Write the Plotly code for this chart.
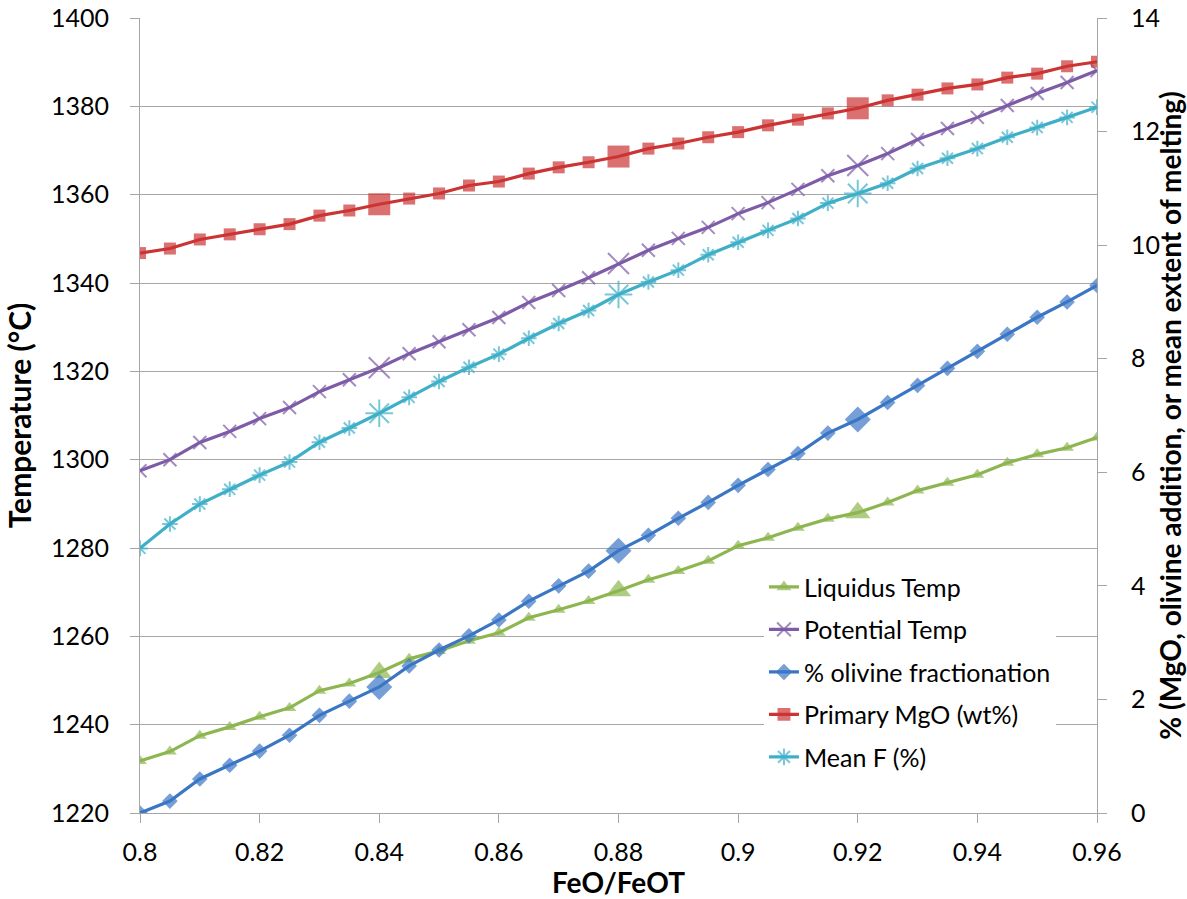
import plotly.graph_objects as go

# FeO/FeOT ratio
feo_ratio = [0.800, 0.805, 0.810, 0.815, 0.820, 0.825, 0.830, 0.835, 0.840,
             0.845, 0.850, 0.855, 0.860, 0.865, 0.870, 0.875, 0.880,
             0.885, 0.890, 0.895, 0.900, 0.905, 0.910,
             0.915, 0.920, 0.925, 0.930, 0.935, 0.940, 0.945, 0.950, 0.955, 0.960]

# Temperatures (°C), left axis
liquidus_temp = [1231.8, 1233.9, 1237.5, 1239.5, 1241.8, 1243.8, 1247.7, 1249.3, 1251.8,
                 1254.9, 1256.7, 1259.0, 1260.8, 1264.2, 1266.0, 1268.0, 1270.3,
                 1272.8, 1274.8, 1277.1, 1280.5, 1282.3, 1284.6,
                 1286.6, 1288.0, 1290.3, 1293.0, 1294.8, 1296.6, 1299.3, 1301.2, 1302.7, 1305.0]
potential_temp = [1297.5, 1300.0, 1303.9, 1306.4, 1309.3, 1311.8, 1315.4, 1318.1, 1320.8,
                  1324.0, 1326.7, 1329.4, 1332.2, 1335.6, 1338.3, 1341.2, 1344.4,
                  1347.4, 1350.1, 1352.6, 1355.7, 1358.2, 1361.2,
                  1364.3, 1366.6, 1369.3, 1372.5, 1375.0, 1377.5, 1380.2, 1382.9, 1385.4, 1388.1]

# Percent quantities, right axis
olivine_frac = [0.00, 0.21, 0.60, 0.84, 1.09, 1.37, 1.72, 1.97, 2.22,
                2.59, 2.87, 3.12, 3.40, 3.73, 4.00, 4.26, 4.62,
                4.89, 5.19, 5.47, 5.77, 6.05, 6.33,
                6.69, 6.93, 7.23, 7.53, 7.83, 8.13, 8.43, 8.73, 9.00, 9.29]
primary_mgo = [9.86, 9.94, 10.10, 10.19, 10.28, 10.37, 10.52, 10.61, 10.72,
               10.82, 10.91, 11.05, 11.12, 11.26, 11.37, 11.46, 11.56,
               11.70, 11.79, 11.90, 11.99, 12.11, 12.21,
               12.32, 12.41, 12.55, 12.65, 12.76, 12.83, 12.95, 13.02, 13.15, 13.23]
mean_f = [4.66, 5.09, 5.44, 5.70, 5.95, 6.18, 6.53, 6.78, 7.04,
          7.32, 7.60, 7.85, 8.08, 8.36, 8.62, 8.85, 9.13,
          9.35, 9.56, 9.83, 10.05, 10.26, 10.47,
          10.74, 10.91, 11.09, 11.35, 11.53, 11.70, 11.90, 12.07, 12.25, 12.43]

# Ratios whose markers are emphasised
highlight_ratios = [0.84, 0.88, 0.92]

x_tick_vals = [0.80, 0.82, 0.84, 0.86, 0.88, 0.90, 0.92, 0.94, 0.96]
x_tick_text = ["0.8", "0.82", "0.84", "0.86", "0.88", "0.9", "0.92", "0.94", "0.96"]


def sizes(normal, big):
    return [big if any(abs(r - h) < 1e-9 for h in highlight_ratios) else normal
            for r in feo_ratio]


FONT = "Lato, 'Open Sans', sans-serif"

series = [
    ("Liquidus Temp", liquidus_temp, "y", "#8DB650", "triangle-up", 12, 22, 0),
    ("Potential Temp", potential_temp, "y", "#7D5BA6", "x-thin-open", 13, 21, 2),
    ("% olivine fractionation", olivine_frac, "y2", "#3A76C4", "diamond", 12, 20, 0),
    ("Primary MgO (wt%)", primary_mgo, "y2", "#CC3333", "square", 12, 22, 0),
    ("Mean F (%)", mean_f, "y2", "#3FAFC8", "asterisk-open", 13, 23, 2),
]

fig = go.Figure()
for i, (name, vals, yax, color, symbol, s_norm, s_big, lw) in enumerate(series):
    fig.add_trace(go.Scatter(
        x=feo_ratio, y=vals, name=name, yaxis=yax, mode="lines+markers",
        line=dict(color=color, width=3.2),
        marker=dict(symbol=symbol, color=color, size=sizes(s_norm, s_big),
                    line=dict(color=color, width=lw)),
        legendgroup=f"g{i}",
    ))

grid_color = "#A6A6A6"
fig.update_layout(
    width=1187, height=899,
    margin=dict(l=140, r=90, t=18, b=86, autoexpand=False),
    paper_bgcolor="white", plot_bgcolor="white",
    font=dict(family=FONT, color="#000000"),
    showlegend=True,
    legend=dict(
        x=0.652, y=0.313, xanchor="left", yanchor="top",
        bgcolor="white", font=dict(size=25, family=FONT),
        traceorder="grouped", tracegroupgap=7, itemwidth=30,
    ),
    xaxis=dict(
        range=[0.8, 0.96], tickvals=x_tick_vals, ticktext=x_tick_text,
        showgrid=False, zeroline=False, showline=True, linecolor=grid_color, linewidth=1,
        ticks="outside", ticklen=9, tickcolor=grid_color, automargin=False,
        tickfont=dict(size=25), ticklabelstandoff=8,
        title=dict(text="<b>FeO/FeOT</b>", font=dict(size=28), standoff=7),
    ),
    yaxis=dict(
        range=[1220, 1400], dtick=20, tick0=1220,
        showgrid=True, gridcolor=grid_color, gridwidth=1, zeroline=False,
        showline=True, linecolor=grid_color, linewidth=1, automargin=False,
        ticks="outside", ticklen=9, tickcolor=grid_color,
        tickfont=dict(size=25), ticklabelstandoff=16,
        title=dict(text="<b>Temperature (°C)</b>", font=dict(size=30), standoff=10),
    ),
    yaxis2=dict(
        range=[0, 14], dtick=2, tick0=0, overlaying="y", side="right",
        showgrid=False, zeroline=False, showline=True, linecolor=grid_color, linewidth=1,
        ticks="outside", ticklen=9, tickcolor=grid_color, automargin=False,
        tickfont=dict(size=25), ticklabelstandoff=19,
        title=dict(text="<b>% (MgO, olivine addition, or mean extent of melting)</b>",
                   font=dict(size=28), standoff=16),
    ),
)

fig.write_html("out.html")
